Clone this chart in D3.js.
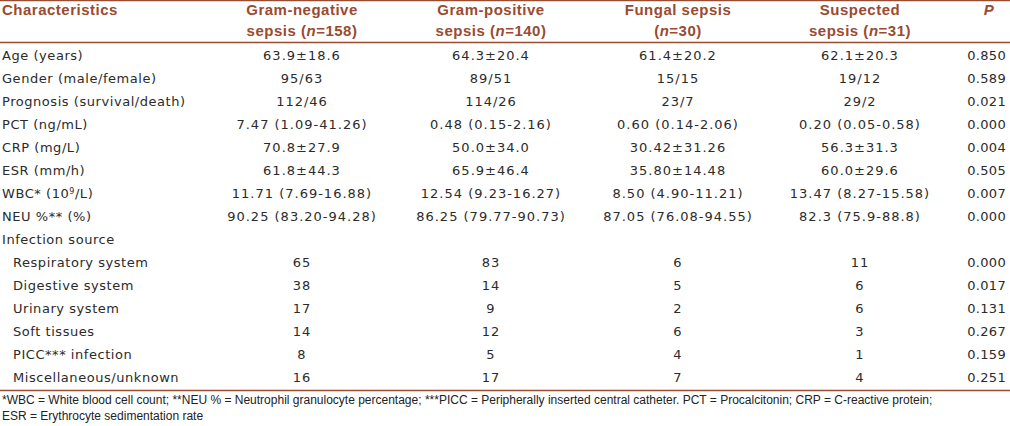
<!DOCTYPE html>
<html><head><meta charset="utf-8">
<script src="https://cdn.jsdelivr.net/npm/d3@7"></script>
<style>
html,body{margin:0;padding:0;background:#fff;}
svg{display:block;}
</style></head>
<body>
<svg id="chart" width="1010" height="426"></svg>
<script>
// ---- data ----
const columns = ["Characteristics", "Gram-negative", "Gram-positive", "Fungal sepsis", "Suspected", "P"];
const headerLine1 = ["Characteristics", "Gram-negative", "Gram-positive", "Fungal sepsis", "Suspected", "P"];
const headerLine2 = ["", "sepsis (|n|=158)", "sepsis (|n|=140)", "(|n|=30)", "sepsis (|n|=31)", ""];
const categories = ["Age (years)", "Gender (male/female)", "Prognosis (survival/death)", "PCT (ng/mL)", "CRP (mg/L)", "ESR (mm/h)", "WBC* (10^9/L)", "NEU %** (%)", "Infection source", "Respiratory system", "Digestive system", "Urinary system", "Soft tissues", "PICC*** infection", "Miscellaneous/unknown"];
const indented = [false, false, false, false, false, false, false, false, false, true, true, true, true, true, true];
const gramNegative = ["63.9±18.6", "95/63", "112/46", "7.47 (1.09-41.26)", "70.8±27.9", "61.8±44.3", "11.71 (7.69-16.88)", "90.25 (83.20-94.28)", "", "65", "38", "17", "14", "8", "16"];
const gramPositive = ["64.3±20.4", "89/51", "114/26", "0.48 (0.15-2.16)", "50.0±34.0", "65.9±46.4", "12.54 (9.23-16.27)", "86.25 (79.77-90.73)", "", "83", "14", "9", "12", "5", "17"];
const fungal = ["61.4±20.2", "15/15", "23/7", "0.60 (0.14-2.06)", "30.42±31.26", "35.80±14.48", "8.50 (4.90-11.21)", "87.05 (76.08-94.55)", "", "6", "5", "2", "6", "4", "7"];
const suspected = ["62.1±20.3", "19/12", "29/2", "0.20 (0.05-0.58)", "56.3±31.3", "60.0±29.6", "13.47 (8.27-15.58)", "82.3 (75.9-88.8)", "", "11", "6", "6", "3", "1", "4"];
const pValues = ["0.850", "0.589", "0.021", "0.000", "0.004", "0.505", "0.007", "0.000", "", "0.000", "0.017", "0.131", "0.267", "0.159", "0.251"];
const footnotes = [
  "*WBC = White blood cell count; **NEU % = Neutrophil granulocyte percentage; ***PICC = Peripherally inserted central catheter. PCT = Procalcitonin; CRP = C-reactive protein;",
  "ESR = Erythrocyte sedimentation rate"
];

// ---- layout ----
const W = 1010, H = 426;
const brown = "#9a4b30";
const bodyColor = "#2b2b2b";
const svg = d3.select("#chart");

const x = d3.scaleOrdinal().domain(columns).range([2, 302, 491, 678, 860, 989]);
const y = d3.scalePoint().domain(categories).range([55, 377]);
const pRight = 1006;

// rules
svg.append("line").attr("x1", 0).attr("x2", W).attr("y1", 0.5).attr("y2", 0.5).attr("stroke", brown).attr("stroke-width", 1.3);
svg.append("line").attr("x1", 0).attr("x2", W).attr("y1", 42.5).attr("y2", 42.5).attr("stroke", brown).attr("stroke-width", 1.3);
svg.append("line").attr("x1", 0).attr("x2", W).attr("y1", 390.5).attr("y2", 390.5).attr("stroke", brown).attr("stroke-width", 1.3);

// header
function richText(sel, str) {
  str.split("|").forEach((part, i) => {
    if (!part) return;
    sel.append("tspan").attr("font-style", i % 2 === 1 ? "italic" : null).text(part);
  });
}
const headG = svg.append("g").attr("font-family", "'Liberation Sans', Arial, sans-serif")
  .attr("font-weight", "bold").attr("font-size", 15).attr("letter-spacing", 0.5).attr("fill", brown);
columns.forEach((c, i) => {
  const anchor = i === 0 ? "start" : "middle";
  const t1 = headG.append("text").attr("x", x(c)).attr("y", 15).attr("text-anchor", anchor);
  richText(t1, i === 5 ? "|P|" : headerLine1[i]);
  if (headerLine2[i]) {
    const t2 = headG.append("text").attr("x", x(c)).attr("y", 36).attr("text-anchor", anchor);
    richText(t2, headerLine2[i]);
  }
});

// body
const bodyG = svg.append("g").attr("font-family", "'DejaVu Sans', sans-serif")
  .attr("font-size", 13).attr("fill", bodyColor);
const rows = categories.map((c, i) => ({
  label: c, indent: indented[i],
  vals: [gramNegative[i], gramPositive[i], fungal[i], suspected[i], pValues[i]]
}));
const rowG = bodyG.selectAll("g.row").data(rows).join("g").attr("class", "row")
  .attr("transform", d => `translate(0,${y(d.label)})`);
rowG.each(function(d) {
  const g = d3.select(this);
  const lab = g.append("text").attr("x", x(columns[0]) + (d.indent ? 11 : 0)).attr("dy", "0.35em")
    .attr("letter-spacing", 0.55);
  if (d.label.includes("^")) {
    const m = d.label.match(/^(.*)\^(\d+)(.*)$/);
    lab.append("tspan").text(m[1]);
    lab.append("tspan").attr("font-size", 8).attr("dy", "-0.5em").text(m[2]);
    lab.append("tspan").attr("dy", "0.32em").text(m[3]);
  } else lab.text(d.label);
  d.vals.forEach((v, j) => {
    if (!v) return;
    const isP = j === 4;
    g.append("text").attr("x", isP ? pRight : x(columns[j + 1])).attr("dy", "0.35em")
      .attr("letter-spacing", isP ? 0.3 : 1).attr("text-anchor", isP ? "end" : "middle").text(v);
  });
});

// footnotes
svg.append("g").attr("font-family", "'Liberation Sans', Arial, sans-serif").attr("font-size", 12).attr("fill", "#222")
  .selectAll("text").data(footnotes).join("text")
  .attr("x", 2).attr("y", (d, i) => 404 + i * 16).text(d => d);
</script>
</body></html>
